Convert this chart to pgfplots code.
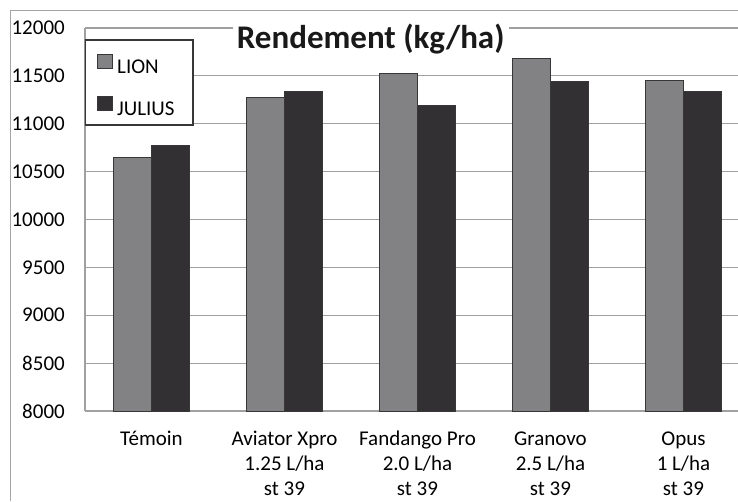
\documentclass[border=0pt]{standalone}
\usepackage{pgfplots}
\pgfplotsset{compat=1.18}
\usepackage{fontspec}
\setmainfont{Carlito}
\definecolor{lion}{RGB}{130,130,133}
\definecolor{julius}{RGB}{50,48,50}
\definecolor{gridc}{RGB}{160,160,160}
\definecolor{edgec}{RGB}{55,55,55}
\definecolor{framec}{RGB}{165,165,165}
\begin{document}
\begin{tikzpicture}
\useasboundingbox (0pt,0pt) rectangle (738pt,501pt);
\draw[framec, line width=1.3pt] (10.5pt,0pt) -- (10.5pt,490.5pt) -- (738pt,490.5pt);
\begin{axis}[
  at={(85pt,90pt)}, anchor=south west,
  scale only axis, width=653pt, height=383pt,
  xmin=-0.5, xmax=4.41, ymin=8000, ymax=12000,
  ytick={8000,8500,...,12000},
  scaled y ticks=false,
  xtick={0,1,2,3,4},
  xticklabels={{\strut Témoin},{\strut Aviator Xpro\\1.25 L/ha\\st 39},{\strut Fandango Pro\\2.0 L/ha\\st 39},{\strut Granovo\\2.5 L/ha\\st 39},{\strut Opus\\1 L/ha\\st 39}},
  ybar=0pt, bar width=38pt,
  ymajorgrids, grid style={gridc, line width=1.2pt},
  axis x line*=bottom, axis y line*=left,
  axis line style={gridc, line width=1.3pt, -},
  major tick length=0pt,
  tick label style={font=\fontsize{21}{25}\selectfont, text=black},
  yticklabel style={anchor=east, inner sep=0pt, xshift=-20pt},
  xticklabel style={anchor=north, inner sep=0pt, align=center, yshift=-16.5pt},
  /pgf/number format/set thousands separator={},
  /pgf/number format/assume math mode=true,
  title={Rendement (kg/ha)},
  every axis title/.style={at={(0.4375,1)}, anchor=base, yshift=-20pt, fill=white, inner xsep=4pt,
    font=\fontsize{33}{36}\selectfont\bfseries, text=black!90},
  legend style={at={(axis description cs:0,0.9687)}, anchor=north west, draw=none, fill=none,
    inner sep=0pt, row sep=0pt, font=\fontsize{21}{25}\selectfont, nodes={inner sep=0pt}},
  legend cell align=left,
  legend image code/.code={\path[draw=none, fill=none] (0pt,-14.5pt) rectangle (32pt,27.5pt);
    \draw[#1, draw=edgec, line width=0.8pt] (12pt,-0.5pt) rectangle (27pt,13.5pt);},
]
\draw[edgec, fill=white, line width=1.3pt] (axis description cs:0,0.9687) rectangle (axis description cs:0.1654,0.7467);
\addplot[fill=lion, draw=edgec, line width=0.9pt] coordinates {(0,10650) (1,11270) (2,11530) (3,11680) (4,11450)};
\addplot[fill=julius, draw=edgec, line width=0.9pt] coordinates {(0,10770) (1,11340) (2,11190) (3,11440) (4,11340)};
\legend{LION, JULIUS}
\end{axis}
\end{tikzpicture}
\end{document}
